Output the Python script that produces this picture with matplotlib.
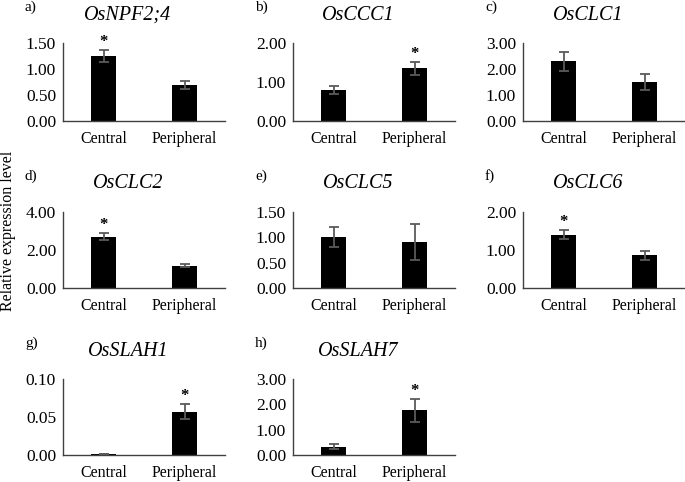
import numpy as np
import matplotlib
matplotlib.use("Agg")
import matplotlib.pyplot as plt

plt.rcParams['font.family'] = ['Liberation Serif', 'DejaVu Serif']

labels = ['a)', 'b)', 'c)', 'd)', 'e)', 'f)', 'g)', 'h)']
genes = ['OsNPF2;4', 'OsCCC1', 'OsCLC1', 'OsCLC2', 'OsCLC5', 'OsCLC6', 'OsSLAH1', 'OsSLAH7']
tissues = ['Central', 'Peripheral']
central = [1.25, 0.80, 2.29, 2.70, 1.00, 1.40, 0.001, 0.32]
central_err = [0.12, 0.10, 0.35, 0.18, 0.20, 0.12, 0.0002, 0.10]
peripheral = [0.69, 1.35, 1.49, 1.18, 0.91, 0.86, 0.057, 1.76]
peripheral_err = [0.07, 0.16, 0.30, 0.08, 0.35, 0.11, 0.010, 0.44]
ymax = [1.5, 2.0, 3.0, 4.0, 1.5, 2.0, 0.10, 3.0]
ystep = [0.5, 1.0, 1.0, 2.0, 0.5, 1.0, 0.05, 1.0]
# which bar carries the asterisk (0 central, 1 peripheral)
signif = [0, 1, None, 0, None, 0, 1, 1]

W, H = 685, 482
fig = plt.figure(figsize=(6.85, 4.82), dpi=100)

col_left = [63, 293, 523]
row_top = [43, 212, 379]
row_bot = [121, 288, 455]
ax_w = 162

for i in range(8):
    r, c = divmod(i, 3)
    ax = fig.add_axes([col_left[c] / W, 1 - row_bot[r] / H, ax_w / W, (row_bot[r] - row_top[r]) / H])
    vals = [central[i], peripheral[i]]
    errs = [central_err[i], peripheral_err[i]]
    x = np.arange(2)
    ax.bar(x, vals, width=0.32, color='black', zorder=2)
    ax.errorbar(x, vals, yerr=errs, fmt='none', ecolor='#5a5a5a', elinewidth=1.3,
                capsize=3.5, capthick=1.3, zorder=3)
    if signif[i] is not None:
        k = signif[i]
        ax.annotate('*', (k, vals[k] + errs[k]), xytext=(0, 0), textcoords='offset points',
                    ha='center', va='bottom', fontsize=12, fontweight='bold')
    ax.set_xlim(-0.5, 1.5)
    ax.set_ylim(0, ymax[i])
    ax.set_yticks(np.arange(0, ymax[i] + ystep[i] / 2, ystep[i]))
    ax.yaxis.set_major_formatter(matplotlib.ticker.FormatStrFormatter('%.2f'))
    ax.set_yticks([ymax[i]], minor=True)
    ax.tick_params(axis='y', which='major', length=0, pad=5, labelsize=12.5)
    ax.tick_params(axis='y', which='minor', length=4, width=1, color='#404040')
    ax.set_xticks(x)
    ax.set_xticklabels(tissues)
    ax.tick_params(axis='x', length=0, pad=7, labelsize=11.5)
    for s in ['top', 'right']:
        ax.spines[s].set_visible(False)
    for s in ['left', 'bottom']:
        ax.spines[s].set_color('#404040')
        ax.spines[s].set_linewidth(1)
    ax.text(0.40, 1 + 28 / (row_bot[r] - row_top[r]), genes[i], transform=ax.transAxes,
            ha='center', va='center', fontsize=14.5, style='italic')
    ax.text(-38 / ax_w, 1 + 36 / (row_bot[r] - row_top[r]), labels[i], transform=ax.transAxes,
            ha='left', va='center', fontsize=11)

fig.text(8 / W, 1 - 231 / H, 'Relative expression level', rotation=90,
         ha='center', va='center', fontsize=11.5)

fig.savefig('out.png', dpi=100)
